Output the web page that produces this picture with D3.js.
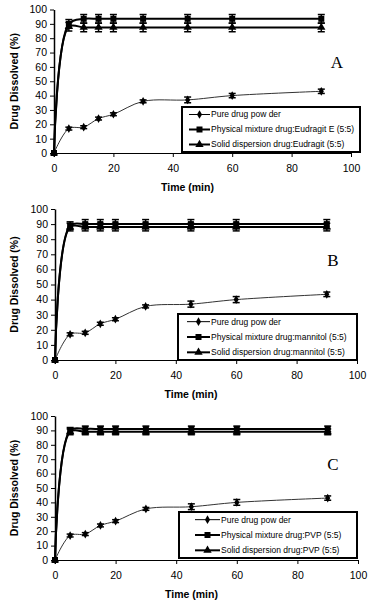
<!DOCTYPE html>
<html>
<head>
<meta charset="utf-8">
<script src="https://cdn.jsdelivr.net/npm/d3@7"></script>
<style>
  body { margin: 0; background: #fff; }
  svg { display: block; }
</style>
</head>
<body>
<script>
  const times = [0, 5, 10, 15, 20, 30, 45, 60, 90];
  const xTicks = [0, 20, 40, 60, 80, 100];
  const yTicks = [0, 10, 20, 30, 40, 50, 60, 70, 80, 90, 100];

  // panel A : Eudragit E
  const pureA = [0, 17, 18, 24, 27, 36, 37, 40, 43];
  const pureErrA = [0, 1, 1, 1, 1, 1, 2, 1.5, 1.5];
  const physA = [0, 90, 93.5, 93.5, 93.5, 93.5, 93.5, 93.5, 93.5];
  const physErrA = [0, 3, 3, 3, 3, 3, 3, 3, 3];
  const solidA = [0, 88, 87.5, 87.5, 87.5, 87.5, 87.5, 87.5, 87.5];
  const solidErrA = [0, 3, 3, 3, 3, 3, 3, 3, 3];

  // panel B : mannitol
  const pureB = [0, 17, 18, 24, 27, 35.5, 37, 40, 43.5];
  const pureErrB = [0, 1, 1, 1, 1, 1, 2, 2, 1.5];
  const physB = [0, 89, 90, 90, 90, 90, 90, 90, 90];
  const physErrB = [0, 2.5, 3, 3, 3, 3, 3, 3, 3];
  const solidB = [0, 88, 88, 88, 88, 88, 88, 88, 88];
  const solidErrB = [0, 2.5, 2.5, 2.5, 2.5, 2.5, 2.5, 2.5, 2.5];

  // panel C : PVP
  const pureC = [0, 17, 18, 24, 27, 35.5, 37, 40, 43];
  const pureErrC = [0, 1, 1, 1, 1, 1, 2, 2, 1.5];
  const physC = [0, 90, 91, 91, 91, 91, 91, 91, 91];
  const physErrC = [0, 2, 2, 2, 2, 2, 2, 2, 2];
  const solidC = [0, 89, 89, 89, 89, 89, 89, 89, 89];
  const solidErrC = [0, 2, 2, 2, 2, 2, 2, 2, 2];

  const legendA = ['Pure drug pow der', 'Physical mixture drug:Eudragit E (5:5)', 'Solid dispersion drug:Eudragit (5:5)'];
  const legendB = ['Pure drug pow der', 'Physical mixture drug:mannitol (5:5)', 'Solid dispersion drug:mannitol (5:5)'];
  const legendC = ['Pure drug pow der', 'Physical mixture drug:PVP (5:5)', 'Solid dispersion drug:PVP (5:5)'];

  const WIDTH = 375;
  const HEIGHT = 600;
  const FONT = 'Liberation Sans, Arial, sans-serif';

  const panels = [
    { letter: 'A', series: [[pureA, pureErrA], [physA, physErrA], [solidA, solidErrA]], legend: legendA,
      left: 54, right: 351, top: 9.5, bottom: 153,
      box: [182, 107, 360, 152], lineX: [189, 210], letterPos: [337, 68] },
    { letter: 'B', series: [[pureB, pureErrB], [physB, physErrB], [solidB, solidErrB]], legend: legendB,
      left: 55, right: 357, top: 209, bottom: 360,
      box: [178, 314, 357, 360], lineX: [187, 210], letterPos: [333, 266] },
    { letter: 'C', series: [[pureC, pureErrC], [physC, physErrC], [solidC, solidErrC]], legend: legendC,
      left: 55, right: 358, top: 416, bottom: 560,
      box: [179, 512, 357, 558], lineX: [195, 220], letterPos: [333, 470] },
  ];

  const symbols = [d3.symbolDiamond, d3.symbolSquare, d3.symbolTriangle];
  const symSize = [22, 36, 30];
  const lineW = [1, 2, 2];

  const svg = d3.select('body').append('svg')
    .attr('width', WIDTH)
    .attr('height', HEIGHT);

  panels.forEach(p => {
    const g = svg.append('g');

    const x = d3.scaleLinear().domain([0, 100]).range([p.left, p.right]);
    const y = d3.scaleLinear().domain([0, 100]).range([p.bottom, p.top]);

    // axes
    const xAxis = g.append('g')
      .attr('transform', `translate(0,${p.bottom})`)
      .call(d3.axisBottom(x).tickValues(xTicks).tickSize(4).tickSizeOuter(0));
    xAxis.select('.domain').attr('stroke-width', 1.2);

    const yAxis = g.append('g')
      .attr('transform', `translate(${p.left},0)`)
      .call(d3.axisLeft(y).tickValues(yTicks).tickSize(4).tickSizeOuter(0));
    yAxis.select('.domain').attr('stroke-width', 1.5);

    g.selectAll('.tick text')
      .attr('font-family', FONT)
      .attr('font-size', 10.5)
      .attr('fill', '#000');
    xAxis.selectAll('.tick text').attr('dy', '1.1em');

    g.append('text')
      .attr('x', (p.left + p.right) / 2 - 15)
      .attr('y', p.bottom + 38)
      .attr('text-anchor', 'middle')
      .attr('font-family', FONT)
      .attr('font-size', 10.5)
      .attr('font-weight', 'bold')
      .text('Time (min)');

    g.append('text')
      .attr('transform', `translate(18,${(p.top + p.bottom) / 2}) rotate(-90)`)
      .attr('text-anchor', 'middle')
      .attr('font-family', FONT)
      .attr('font-size', 10.5)
      .attr('font-weight', 'bold')
      .text('Drug Dissolved (%)');

    // series
    const line = d3.line()
      .x((d, i) => x(times[i]))
      .y(d => y(d))
      .curve(d3.curveCatmullRom.alpha(0.5));

    p.series.forEach(([vals, errs], s) => {
      g.append('path')
        .datum(vals)
        .attr('d', line)
        .attr('fill', 'none')
        .attr('stroke', s === 0 ? '#333' : '#000')
        .attr('stroke-width', lineW[s]);

      const eb = g.append('g');
      vals.forEach((v, i) => {
        if (!errs[i]) return;
        const cx = x(times[i]);
        eb.append('line')
          .attr('x1', cx).attr('x2', cx)
          .attr('y1', y(v - errs[i])).attr('y2', y(v + errs[i]))
          .attr('stroke', '#000').attr('stroke-width', 1.5);
        [v - errs[i], v + errs[i]].forEach(e => {
          eb.append('line')
            .attr('x1', cx - 3.5).attr('x2', cx + 3.5)
            .attr('y1', y(e)).attr('y2', y(e))
            .attr('stroke', '#000').attr('stroke-width', 1.5);
        });
      });

      g.append('g').selectAll('path')
        .data(vals)
        .enter()
        .append('path')
        .attr('transform', (d, i) => `translate(${x(times[i])},${y(d)})`)
        .attr('d', d3.symbol().type(symbols[s]).size(symSize[s]))
        .attr('fill', '#000');
    });

    // panel letter
    g.append('text')
      .attr('x', p.letterPos[0])
      .attr('y', p.letterPos[1])
      .attr('text-anchor', 'middle')
      .attr('font-family', 'Liberation Serif, Times New Roman, serif')
      .attr('font-size', 17)
      .text(p.letter);

    // legend
    const [bx0, by0, bx1, by1] = p.box;
    g.append('rect')
      .attr('x', bx0).attr('y', by0)
      .attr('width', bx1 - bx0).attr('height', by1 - by0)
      .attr('fill', '#fff')
      .attr('stroke', '#000')
      .attr('stroke-width', 2);

    const rowH = (by1 - by0) / 3;
    p.legend.forEach((lbl, s) => {
      const ly = by0 + rowH * (s + 0.5);
      g.append('line')
        .attr('x1', p.lineX[0]).attr('x2', p.lineX[1])
        .attr('y1', ly).attr('y2', ly)
        .attr('stroke', '#000')
        .attr('stroke-width', lineW[s]);
      g.append('path')
        .attr('transform', `translate(${(p.lineX[0] + p.lineX[1]) / 2},${ly})`)
        .attr('d', d3.symbol().type(symbols[s]).size(symSize[s]))
        .attr('fill', '#000');
      g.append('text')
        .attr('x', p.lineX[1] + 1)
        .attr('y', ly)
        .attr('dy', '0.35em')
        .attr('font-family', FONT)
        .attr('font-size', 8.5)
        .attr('textLength', null)
        .text(lbl);
    });
  });
</script>
</body>
</html>
